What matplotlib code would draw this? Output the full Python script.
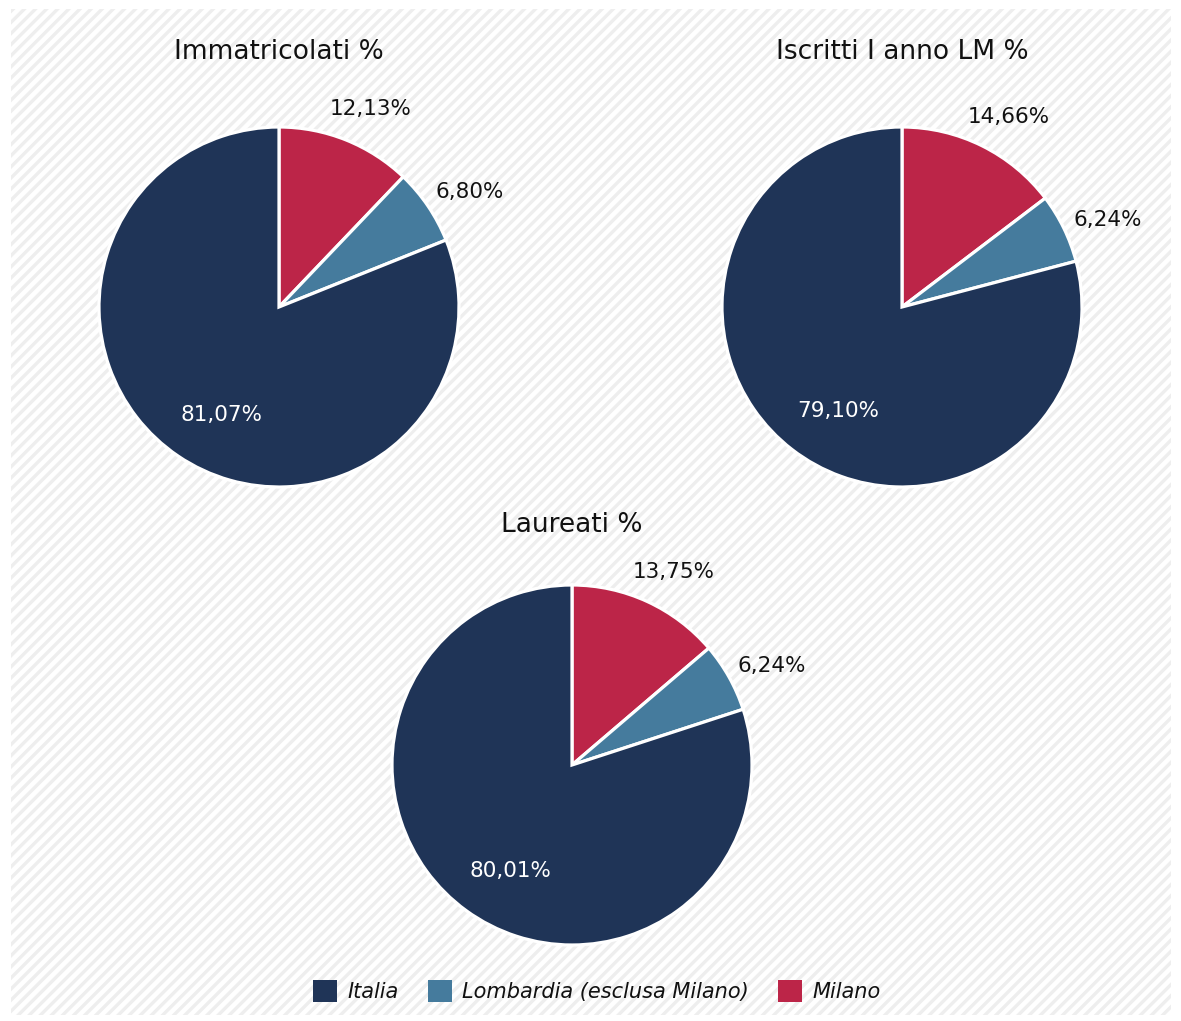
import numpy as np
import matplotlib
matplotlib.use("Agg")
import matplotlib.pyplot as plt
from matplotlib.patches import Rectangle, Patch

plt.rcParams['font.family'] = ['DejaVu Sans']
plt.rcParams['hatch.linewidth'] = 2.4

categories = ["Italia", "Lombardia (esclusa Milano)", "Milano"]
titles = ["Immatricolati %", "Iscritti I anno LM %", "Laureati %"]
# values in drawing order: Milano, Lombardia, Italia
milano = [12.13, 14.66, 13.75]
lombardia = [6.80, 6.24, 6.24]
italia = [81.07, 79.10, 80.01]

colors = {"Italia": "#1f3457", "Lombardia (esclusa Milano)": "#457b9d", "Milano": "#bc2548"}

W, H = 1181, 1021
fig = plt.figure(figsize=(W / 100, H / 100), dpi=100)
fig.patch.set_facecolor('white')
bg = Rectangle((11 / W, 6 / H), (W - 21) / W, (H - 15) / H, transform=fig.transFigure,
               facecolor='white', edgecolor='#eeeeee', linewidth=0, hatch='///', zorder=-5)
fig.patches.append(bg)

centers = [(279, 307), (902, 307), (572, 765)]
title_y = [52, 52, 525]
R = 180
half = 1.25 * R

def fmt(v):
    return f"{v:.2f}%".replace('.', ',')

for i, (cx, cy) in enumerate(centers):
    ax = fig.add_axes([(cx - half) / W, (H - cy - half) / H, 2 * half / W, 2 * half / H])
    ax.set_zorder(2)
    vals = [milano[i], lombardia[i], italia[i]]
    cols = [colors["Milano"], colors["Lombardia (esclusa Milano)"], colors["Italia"]]
    wedges, _ = ax.pie(vals, colors=cols, startangle=90, counterclock=False,
                       wedgeprops=dict(edgecolor='white', linewidth=2.3))
    ax.set_xlim(-1.25, 1.25)
    ax.set_ylim(-1.25, 1.25)
    ax.set_aspect('equal')
    ax.axis('off')
    for j, (w, v) in enumerate(zip(wedges, vals)):
        mid = (w.theta1 + w.theta2) / 2
        if j == 2:
            ang = np.deg2rad(mid + 6)
            r = 0.68
            col = 'white'
        elif j == 0:
            ang = np.deg2rad(mid - 3)
            r = 1.21
            col = '#111111'
        else:
            ang = np.deg2rad(mid - 3)
            r = 1.24
            col = '#111111'
        ax.text(r * np.cos(ang), r * np.sin(ang), fmt(v), ha='center', va='center',
                fontsize=15.5, color=col, clip_on=False)
    fig.text(cx / W, 1 - title_y[i] / H, titles[i], ha='center', va='center',
             fontsize=19, color='#111111')

handles = [Patch(facecolor=colors[c], edgecolor='none') for c in categories]
leg = fig.legend(handles, categories, loc='center', bbox_to_anchor=(597 / W, 1 - 991 / H),
                 ncol=3, frameon=False, handlelength=1.15, handleheight=1.2,
                 handletextpad=0.5, columnspacing=1.4,
                 prop=dict(style='italic', size=15))
for t in leg.get_texts():
    t.set_color('#111111')

fig.savefig('out.png', dpi=100)
